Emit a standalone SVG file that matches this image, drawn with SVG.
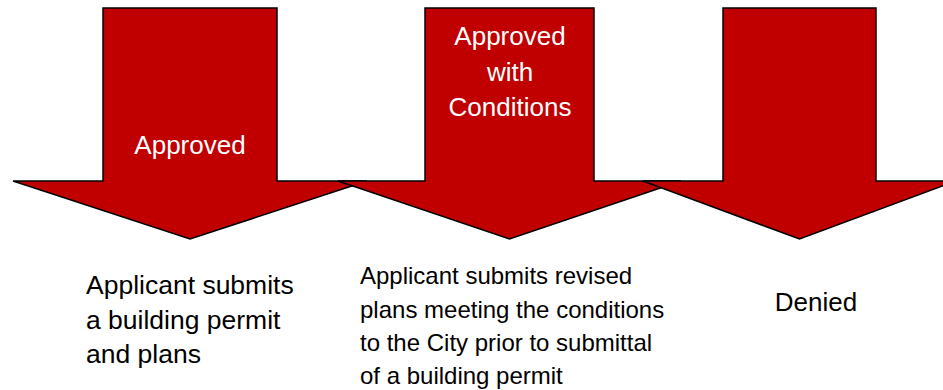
<svg xmlns="http://www.w3.org/2000/svg" width="943" height="390" viewBox="0 0 943 390">
<style>
.arrow{fill:#C00000;stroke:#000;stroke-width:1.5;stroke-linejoin:miter}
.lbl{font-family:"Liberation Sans",Arial,sans-serif;fill:#fff;font-size:26px;text-anchor:middle}
.txt{font-family:"Liberation Sans",Arial,sans-serif;fill:#000}
</style>
<rect width="943" height="390" fill="#fff"/>
<g id="arrow1">
<polygon class="arrow" points="103,8 277,8 277,181 367,181 190,239 13,181 103,181"/>
<text class="lbl" x="190" y="154">Approved</text>
</g>
<g id="arrow2">
<polygon class="arrow" points="425,8 594,8 594,181 681,181 509.5,239 338,181 425,181"/>
<text class="lbl" x="510" y="45">Approved</text>
<text class="lbl" x="510" y="81">with</text>
<text class="lbl" x="510" y="116">Conditions</text>
</g>
<g id="arrow3">
<polygon class="arrow" points="723,8 876,8 876,181 956,181 799.5,239 643,181 723,181"/>
</g>
<g id="text1">
<text class="txt" x="86" y="294" font-size="26.5">Applicant submits</text>
<text class="txt" x="86" y="329" font-size="26.5">a building permit</text>
<text class="txt" x="86" y="363" font-size="26.5">and plans</text>
</g>
<g id="text2">
<text class="txt" x="360" y="284" font-size="24">Applicant submits revised</text>
<text class="txt" x="360" y="318" font-size="24">plans meeting the conditions</text>
<text class="txt" x="360" y="351" font-size="24">to the City prior to submittal</text>
<text class="txt" x="360" y="384" font-size="24">of a building permit</text>
</g>
<g id="text3">
<text class="txt" x="816" y="311" font-size="26" text-anchor="middle">Denied</text>
</g>
<g id="connectors"/>
</svg>
